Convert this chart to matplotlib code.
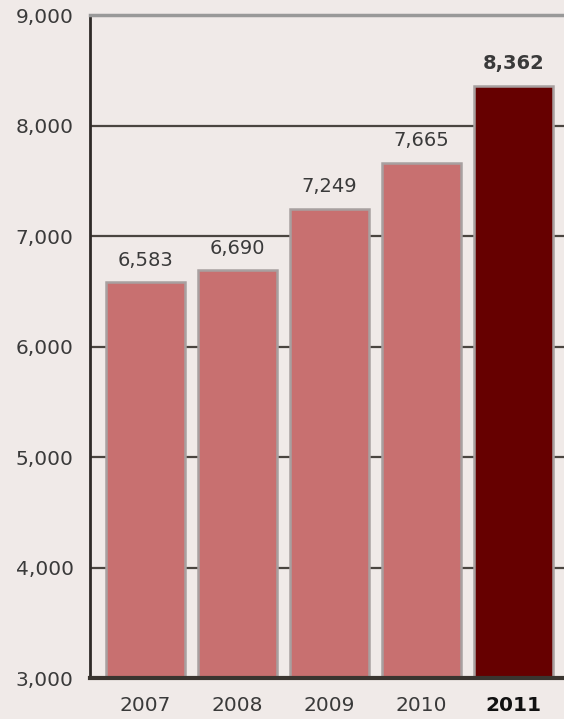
import matplotlib.pyplot as plt

years = ['2007', '2008', '2009', '2010', '2011']
values = [6583, 6690, 7249, 7665, 8362]
yticks = [3000, 4000, 5000, 6000, 7000, 8000, 9000]

bg = '#F0EAE8'
colors = ['#C87070'] * 4 + ['#660000']

plt.rcParams['font.family'] = ['DejaVu Sans']

fig = plt.figure(figsize=(5.64, 7.19), dpi=100, facecolor=bg)
ax = fig.add_axes([0.16, 0.057, 0.84, 0.922], facecolor=bg)

x = range(len(years))
bars = ax.bar(x, values, width=0.86, color=colors, edgecolor='#A8A0A0',
              linewidth=1.8, zorder=3)

for i, (b, v) in enumerate(zip(bars, values)):
    ax.annotate(f'{v:,}', (b.get_x() + b.get_width() / 2, v),
                xytext=(0, 9), textcoords='offset points',
                ha='center', va='bottom', fontsize=14, color='#3A3A3A',
                fontweight='bold' if i == len(values) - 1 else 'normal')

ax.set_ylim(3000, 9000)
ax.set_xlim(-0.6, 4.55)
ax.set_yticks(yticks)
ax.set_yticklabels([f'{t:,}' for t in yticks], fontsize=14.5, color='#3A3A3A')
ax.set_xticks(list(x))
ax.set_xticklabels(years, fontsize=14.5, color='#3A3A3A')
ax.get_xticklabels()[-1].set_fontweight('bold')
ax.get_xticklabels()[-1].set_color('#111111')
ax.tick_params(axis='y', length=0, pad=12)
ax.tick_params(axis='x', length=0, pad=13)

ax.yaxis.grid(True, color='#4A4540', linewidth=1.6, zorder=1)
ax.set_axisbelow(True)

ax.spines['top'].set_color('#999999')
ax.spines['top'].set_linewidth(2.5)
ax.spines['right'].set_visible(False)
ax.spines['left'].set_color('#2E2A27')
ax.spines['left'].set_linewidth(2)
ax.spines['bottom'].set_color('#3A3530')
ax.spines['bottom'].set_linewidth(3)
ax.spines['bottom'].set_zorder(4)

plt.savefig('out.png', dpi=100, facecolor=bg)
